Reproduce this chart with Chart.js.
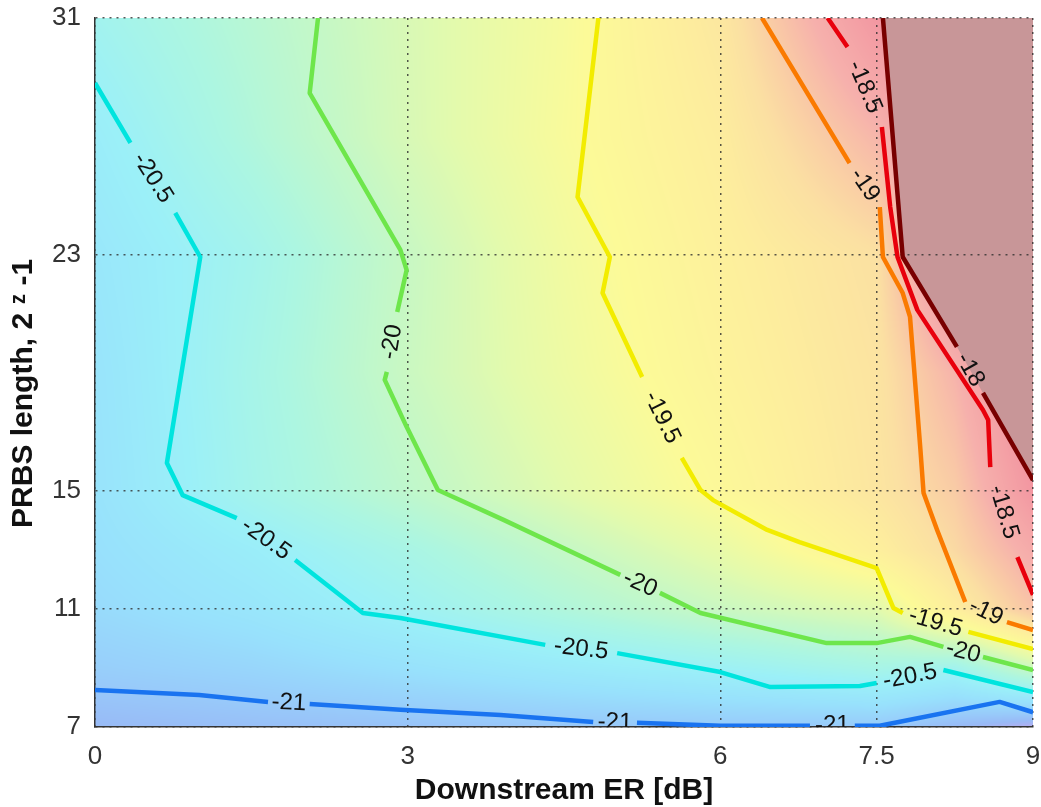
<!DOCTYPE html>
<html>
<head>
<meta charset="utf-8">
<script src="https://cdn.jsdelivr.net/npm/chart.js@4.4.1/dist/chart.umd.min.js"></script>
<style>html,body{margin:0;padding:0;background:#fff;}canvas{display:block;}</style>
</head>
<body>
<canvas id="c" width="1041" height="807"></canvas>
<script>
// ---- data ----
const xTicks = [0, 3, 6, 7.5, 9];
const yTicks = [7, 11, 15, 23, 31];
const levels = [-21, -20.5, -20, -19.5, -19, -18.5, -18];

// contour lines: [ER, PRBS z] points, null = gap where the level label sits
const contourM21 = [[0,8.25],[1.0,8.08],[1.66,7.85],null,[2.06,7.78],[2.93,7.58],[3.89,7.41],[4.78,7.17],null,[5.2,7.14],[6.0,7.04],[6.86,7.04],null,[7.29,7.04],[7.53,7.04],[8.68,7.85],[9.0,7.5]];
const contourM205 = [[0,28.8],[0.34,26.77],null,[0.77,24.4],[1.01,22.91],[0.69,15.94],[0.84,14.85],[1.36,14.07],null,[1.92,12.65],[2.57,10.86],[2.93,10.69],[4.32,9.78],null,[5.01,9.5],[6.0,8.86],[6.48,8.35],[7.34,8.39],[7.5,8.49],null,[8.14,8.93],[9.0,8.18]];
const contourM20 = [[2.14,31],[2.06,28.46],[2.93,23.15],[2.99,22.47],[2.9,21.05],null,[2.8,19.02],[2.78,18.75],[2.99,17.16],[3.29,15.02],[3.92,14.01],[5.04,12.15],null,[5.42,11.54],[5.81,10.86],[7.02,9.84],[7.5,9.84],[7.82,10.05],[8.14,9.71],null,[8.52,9.37],[9.0,8.93]];
const contourM195 = [[4.83,31],[4.63,24.94],[4.94,22.91],[4.87,21.69],[5.25,18.85],null,[5.63,16.11],[5.81,15.02],[5.93,14.68],[6.45,13.67],[6.76,13.26],[7.5,12.38],[7.66,11.03],[7.75,10.86],null,[8.38,10.22],[9.0,9.64]];
const contourM19 = [[6.4,31],[7.24,26.09],null,[7.53,24.6],[7.56,22.91],[7.75,21.69],[7.82,20.88],[7.92,16.38],[7.95,14.92],[8.08,13.67],[8.35,11.23],null,[8.75,10.55],[9.0,10.28]];
const contourM185 = [[7.03,31],[7.22,30.02],null,[7.55,27.31],[7.63,24.6],[7.7,22.91],[7.89,21.12],[8.52,17.73],[8.57,17.39],[8.59,15.8],null,[8.85,12.75],[9.0,11.47]];
const contourM18 = [[7.56,31],[7.75,22.91],[8.27,19.87],null,[8.52,18.31],[9.0,15.36]];

// sampled surface (received power) for the filled background
const gridX = [0, 1.5, 3, 4.5, 6, 7.5, 8.25, 9];
const gridY = [7, 9, 11, 13, 15, 19, 23, 27, 31];
const gridZ = [
  [-21.15, -21.1, -21.07, -21.03, -21.0, -21.0, -21.15, -21.3],
  [-20.95, -20.87, -20.74, -20.6, -20.47, -20.31, -20.39, -19.95],
  [-20.82, -20.67, -20.45, -20.2, -19.96, -19.77, -19.25, -18.7],
  [-20.76, -20.55, -20.3, -20.0, -19.7, -19.28, -18.93, -18.4],
  [-20.72, -20.36, -20.06, -19.76, -19.46, -19.1, -18.79, -18.05],
  [-20.7, -20.33, -19.96, -19.65, -19.36, -19.07, -18.53, -17.75],
  [-20.65, -20.37, -19.98, -19.61, -19.3, -19.01, -17.85, -17.65],
  [-20.55, -20.2, -19.85, -19.54, -19.23, -18.56, -17.8, -17.6],
  [-20.4, -20.13, -19.84, -19.56, -19.13, -18.06, -17.8, -17.6]
];

// ---- styles ----
const lineColors = ['rgb(25,115,240)','rgb(0,228,222)','rgb(110,230,75)','rgb(242,236,0)','rgb(250,122,0)','rgb(232,0,12)','rgb(120,0,0)'];
const contours = [contourM21, contourM205, contourM20, contourM195, contourM19, contourM185, contourM18];
const cmapZ = [-21.3, -21.15, -21.0, -20.75, -20.5, -20.25, -20.0, -19.75, -19.5, -19.25, -19.0, -18.75, -18.5, -18.0];
const cmapRGB = [[182,172,240],[152,186,246],[152,202,250],[152,225,252],[155,240,248],[172,246,225],[197,248,198],[228,250,172],[252,250,152],[253,238,157],[251,224,162],[249,200,166],[246,176,172],[242,148,160]];
const topRegionColor = 'rgb(200,150,152)';
const FONT = '"Liberation Sans", Arial, "DejaVu Sans", sans-serif';

function findCell(arr, v) {
  let i = 0;
  while (i < arr.length - 2 && v > arr[i + 1]) i++;
  let t = (v - arr[i]) / (arr[i + 1] - arr[i]);
  return [i, Math.max(0, Math.min(1, t))];
}
function surface(xv, yv) {
  const [i, tx] = findCell(gridX, xv);
  const [j, ty] = findCell(gridY, yv);
  const a = gridZ[j][i], b = gridZ[j][i + 1], c = gridZ[j + 1][i], d = gridZ[j + 1][i + 1];
  return (a * (1 - tx) + b * tx) * (1 - ty) + (c * (1 - tx) + d * tx) * ty;
}
function colorFor(z) {
  if (z <= cmapZ[0]) return cmapRGB[0];
  for (let k = 0; k < cmapZ.length - 1; k++) {
    if (z <= cmapZ[k + 1]) {
      const t = (z - cmapZ[k]) / (cmapZ[k + 1] - cmapZ[k]);
      const p = cmapRGB[k], q = cmapRGB[k + 1];
      return [p[0] + (q[0] - p[0]) * t, p[1] + (q[1] - p[1]) * t, p[2] + (q[2] - p[2]) * t];
    }
  }
  return cmapRGB[cmapRGB.length - 1];
}

const surfacePlugin = {
  id: 'surface',
  beforeDraw(chart) {
    const {ctx, chartArea: a, scales: {x, y}} = chart;
    const w = Math.round(a.right - a.left), h = Math.round(a.bottom - a.top);
    const off = document.createElement('canvas');
    off.width = w; off.height = h;
    const octx = off.getContext('2d');
    const img = octx.createImageData(w, h);
    const xs = new Float64Array(w);
    for (let i = 0; i < w; i++) xs[i] = x.getValueForPixel(a.left + i + 0.5);
    for (let j = 0; j < h; j++) {
      const yv = y.getValueForPixel(a.top + j + 0.5);
      for (let i = 0; i < w; i++) {
        const c = colorFor(surface(xs[i], yv));
        const k = (j * w + i) * 4;
        img.data[k] = c[0]; img.data[k + 1] = c[1]; img.data[k + 2] = c[2]; img.data[k + 3] = 255;
      }
    }
    octx.putImageData(img, 0, 0);
    ctx.drawImage(off, a.left, a.top);
    // filled region above the highest level (-18)
    const pts = contourM18.filter(p => p);
    ctx.save();
    ctx.beginPath();
    pts.forEach((p, k) => {
      const px = x.getPixelForValue(p[0]), py = y.getPixelForValue(p[1]);
      if (k === 0) ctx.moveTo(px, py); else ctx.lineTo(px, py);
    });
    ctx.lineTo(x.getPixelForValue(x.max), y.getPixelForValue(y.max));
    ctx.closePath();
    ctx.fillStyle = topRegionColor;
    ctx.fill();
    ctx.restore();
  }
};

const labelPlugin = {
  id: 'clabels',
  afterDatasetsDraw(chart) {
    const {ctx, chartArea: a, scales: {x, y}} = chart;
    ctx.save();
    ctx.beginPath();
    ctx.rect(a.left, a.top, a.right - a.left, a.bottom - a.top);
    ctx.clip();
    ctx.font = '24px ' + FONT;
    ctx.fillStyle = '#111';
    ctx.textAlign = 'center';
    ctx.textBaseline = 'middle';
    contours.forEach((pts, li) => {
      for (let k = 1; k < pts.length - 1; k++) {
        if (pts[k] === null && pts[k - 1] && pts[k + 1]) {
          const x1 = x.getPixelForValue(pts[k - 1][0]), y1 = y.getPixelForValue(pts[k - 1][1]);
          const x2 = x.getPixelForValue(pts[k + 1][0]), y2 = y.getPixelForValue(pts[k + 1][1]);
          let ang = Math.atan2(y2 - y1, x2 - x1);
          if (ang > Math.PI / 2) ang -= Math.PI;
          if (ang < -Math.PI / 2) ang += Math.PI;
          ctx.save();
          ctx.translate((x1 + x2) / 2, (y1 + y2) / 2);
          ctx.rotate(ang);
          ctx.fillText(String(levels[li]), 0, 0);
          ctx.restore();
        }
      }
    });
    ctx.restore();
  }
};

const datasets = contours.map((pts, li) => ({
  label: String(levels[li]),
  data: pts.map((p, k) => p ? {x: p[0], y: p[1]} : {x: (pts[k - 1][0] + pts[k + 1][0]) / 2, y: null}),
  borderColor: lineColors[li],
  backgroundColor: lineColors[li],
  borderWidth: 4.5,
  pointRadius: 0,
  showLine: true,
  spanGaps: false,
  tension: 0,
  borderJoinStyle: 'round',
  fill: false
}));

new Chart(document.getElementById('c'), {
  type: 'scatter',
  data: {datasets},
  plugins: [surfacePlugin, labelPlugin],
  options: {
    responsive: false,
    animation: false,
    layout: {padding: {top: 18, right: 8, left: 0, bottom: 0}},
    plugins: {legend: {display: false}, tooltip: {enabled: false}},
    scales: {
      x: {
        type: 'linear', min: 0, max: 9,
        afterBuildTicks: s => { s.ticks = xTicks.map(v => ({value: v})); },
        afterFit: s => { s.height = 80; s.paddingLeft = 0; s.paddingRight = 0; },
        ticks: {font: {family: FONT, size: 26}, color: '#333', padding: 14, maxRotation: 0,
                callback: v => String(v)},
        grid: {color: 'rgba(45,45,45,0.8)', lineWidth: 1.5, drawTicks: false},
        border: {display: true, color: '#333', width: 1.5, dash: [2, 5]},
        title: {display: true, text: 'Downstream ER [dB]', color: '#111',
                font: {family: FONT, size: 30, weight: 'bold'}, padding: {top: 0, bottom: -2}}
      },
      y: {
        type: 'linear', min: 7, max: 31,
        afterBuildTicks: s => { s.ticks = yTicks.map(v => ({value: v})); },
        afterFit: s => { s.width = 95; s.paddingTop = 0; s.paddingBottom = 0; },
        ticks: {font: {family: FONT, size: 26}, color: '#333', padding: 14,
                callback: v => String(v)},
        grid: {color: 'rgba(45,45,45,0.8)', lineWidth: 1.5, drawTicks: false},
        border: {display: true, color: '#333', width: 1.5, dash: [2, 5]},
        title: {display: true, text: 'PRBS length, 2 \u1DBB -1\u00A0\u00A0\u00A0\u00A0\u00A0', color: '#111',
                font: {family: FONT, size: 30, weight: 'bold'}, padding: {top: 6, bottom: 0}}
      }
    }
  }
});
</script>
</body>
</html>
